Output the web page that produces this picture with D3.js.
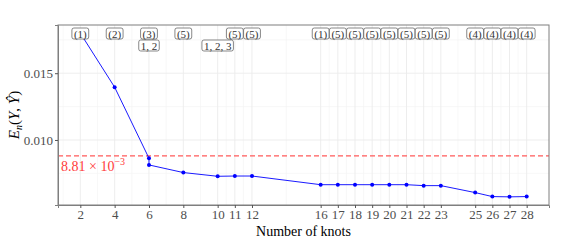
<!DOCTYPE html>
<meta charset="utf-8">
<html>
<head>
<script src="https://cdn.jsdelivr.net/npm/d3@7"></script>
<style>
  body { margin: 0; background: #fff; }
  text { font-family: "Liberation Serif", "DejaVu Serif", serif; }
</style>
</head>
<body>
<div id="chart"></div>
<script>
// data
var knots   = [2, 4, 6, 6, 8, 10, 11, 12, 16, 17, 18, 19, 20, 21, 22, 23, 25, 26, 27, 28];
var errors  = [0.01800, 0.01395, 0.00863, 0.00813, 0.00756, 0.00728, 0.00730, 0.00730,
               0.00665, 0.00665, 0.00665, 0.00665, 0.00665, 0.00665, 0.00658, 0.00658,
               0.00606, 0.00576, 0.00574, 0.00576];
var xTicks  = [2, 4, 6, 8, 10, 11, 12, 16, 17, 18, 19, 20, 21, 22, 23, 25, 26, 27, 28];
var yTicks  = [0.010, 0.015];
var threshold = 0.00881;

// labels on top of the panel
var topLabelX   = [2, 4, 6, 8, 11, 12, 16, 17, 18, 19, 20, 21, 22, 23, 25, 26, 27, 28];
var topLabelTxt = ["(1)", "(2)", "(3)", "(5)", "(5)", "(5)", "(1)", "(5)", "(5)", "(5)", "(5)",
                   "(5)", "(5)", "(5)", "(4)", "(4)", "(4)", "(4)"];
var subLabelX   = [6, 10];
var subLabelTxt = ["1, 2", "1, 2, 3"];

var width = 563, height = 240;
var margin = {top: 25, right: 14, bottom: 35, left: 58};

var svg = d3.select("#chart").append("svg")
    .attr("width", width)
    .attr("height", height);

var x = d3.scaleLinear().domain([0.7, 29.3]).range([margin.left, width - margin.right]);
var y = d3.scaleLinear().domain([0.00513, 0.01861]).range([height - margin.bottom, margin.top]);

var x0 = margin.left, x1 = width - margin.right;
var y0 = height - margin.bottom, y1 = margin.top;

// minor grid at midpoints like ggplot
var xMinor = [];
for (var i = 0; i < xTicks.length - 1; i++) xMinor.push((xTicks[i] + xTicks[i + 1]) / 2);
xMinor.unshift(1);
var yMinor = [0.0075, 0.0125, 0.0175];

var grid = svg.append("g");
grid.selectAll(".xminor").data(xMinor).enter().append("line")
    .attr("x1", d => x(d)).attr("x2", d => x(d)).attr("y1", y0).attr("y2", y1)
    .attr("stroke", "#f4f4f4").attr("stroke-width", 0.6);
grid.selectAll(".yminor").data(yMinor).enter().append("line")
    .attr("x1", x0).attr("x2", x1).attr("y1", d => y(d)).attr("y2", d => y(d))
    .attr("stroke", "#f4f4f4").attr("stroke-width", 0.6);
grid.selectAll(".xmajor").data(xTicks).enter().append("line")
    .attr("x1", d => x(d)).attr("x2", d => x(d)).attr("y1", y0).attr("y2", y1)
    .attr("stroke", "#ebebeb").attr("stroke-width", 0.9);
grid.selectAll(".ymajor").data(yTicks).enter().append("line")
    .attr("x1", x0).attr("x2", x1).attr("y1", d => y(d)).attr("y2", d => y(d))
    .attr("stroke", "#ebebeb").attr("stroke-width", 0.9);

// threshold
svg.append("line")
    .attr("x1", x0).attr("x2", x1)
    .attr("y1", y(threshold)).attr("y2", y(threshold))
    .attr("stroke", "#ff5a5a").attr("stroke-width", 1.1)
    .attr("stroke-dasharray", "5,3");

var thr = svg.append("text")
    .attr("x", x0 + 3).attr("y", y(threshold) + 15)
    .attr("fill", "#ff3b3b").attr("font-size", 14);
thr.append("tspan").text("8.81 × 10");
thr.append("tspan").attr("dy", -6).attr("font-size", 10).text("−3");

// line + points
var line = d3.line().x((d, i) => x(knots[i])).y(d => y(d));
svg.append("path").datum(errors)
    .attr("d", line).attr("fill", "none")
    .attr("stroke", "#0000ff").attr("stroke-width", 0.9);
svg.selectAll(".pt").data(errors).enter().append("circle")
    .attr("cx", (d, i) => x(knots[i])).attr("cy", d => y(d))
    .attr("r", 2).attr("fill", "#0000ff");

// panel border and axes
svg.append("rect")
    .attr("x", x0).attr("y", y1).attr("width", x1 - x0).attr("height", y0 - y1)
    .attr("fill", "none").attr("stroke", "#7f7f7f").attr("stroke-width", 1);

var xAxis = svg.append("g")
    .attr("transform", "translate(0," + y0 + ")")
    .call(d3.axisBottom(x).tickValues(xTicks).tickSize(3).tickPadding(2).tickFormat(d3.format("d")));
var yAxis = svg.append("g")
    .attr("transform", "translate(" + x0 + ",0)")
    .call(d3.axisLeft(y).tickValues(yTicks).tickSize(3).tickPadding(2).tickFormat(d3.format(".3f")));
[xAxis, yAxis].forEach(function(a) {
    a.select(".domain").attr("stroke", "#7f7f7f");
    a.selectAll(".tick line").attr("stroke", "#555");
    a.selectAll(".tick text").attr("fill", "#4d4d4d").attr("font-size", 13)
        .attr("font-family", "Liberation Serif, serif");
});

// labels
function drawLabels(xs, txts, yv) {
    var g = svg.append("g");
    xs.forEach(function(xv, i) {
        var t = g.append("text")
            .attr("x", x(xv)).attr("y", yv + 4)
            .attr("text-anchor", "middle").attr("font-size", 11)
            .attr("fill", "#333").text(txts[i]);
        var w = t.node().getComputedTextLength() + 4;
        g.insert("rect", "text")
            .attr("x", x(xv) - w / 2).attr("y", yv - 5.5)
            .attr("width", w).attr("height", 11)
            .attr("rx", 2).attr("fill", "#fff")
            .attr("stroke", "#555").attr("stroke-width", 0.7);
    });
}
drawLabels(topLabelX, topLabelTxt, 33.5);
drawLabels(subLabelX, subLabelTxt, 45.5);

// axis titles
svg.append("text")
    .attr("x", (x0 + x1) / 2).attr("y", 236)
    .attr("text-anchor", "middle").attr("font-size", 14)
    .text("Number of knots");

var yl = svg.append("text")
    .attr("transform", "translate(19," + ((y0 + y1) / 2) + ") rotate(-90)")
    .attr("text-anchor", "middle").attr("font-size", 15);
yl.append("tspan").attr("font-style", "italic").text("E");
yl.append("tspan").attr("font-style", "italic").attr("font-size", 10).attr("dy", 3).text("n");
yl.append("tspan").attr("dy", -3).text("(");
yl.append("tspan").attr("font-style", "italic").text("Y");
yl.append("tspan").text(", ");
yl.append("tspan").attr("font-style", "italic").text("Ŷ");
yl.append("tspan").text(")");
</script>
</body>
</html>
